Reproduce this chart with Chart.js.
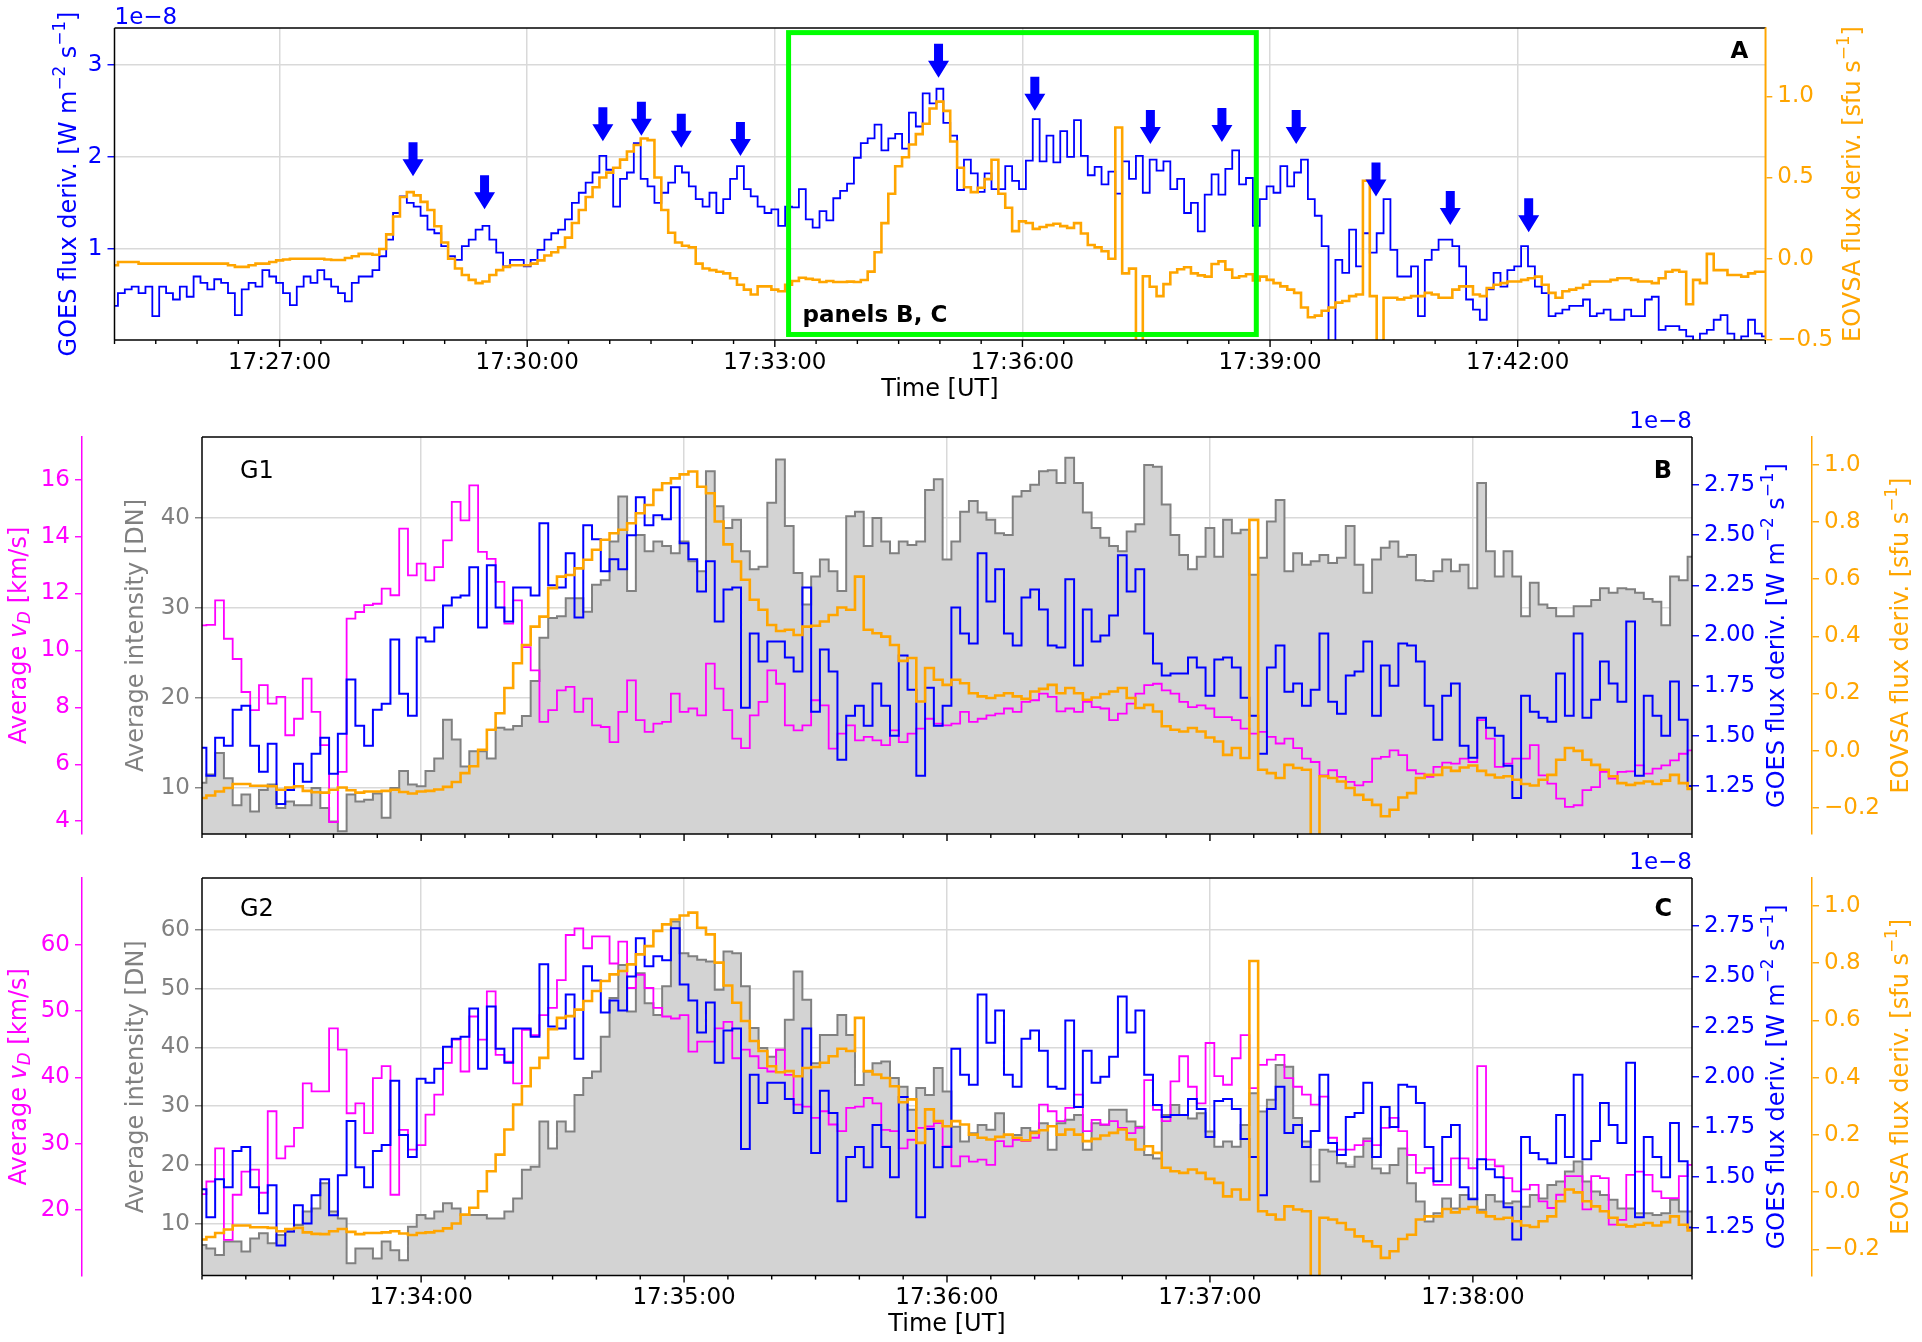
<!DOCTYPE html>
<html>
<head>
<meta charset="utf-8">
<script src="https://cdn.jsdelivr.net/npm/chart.js@4.4.1/dist/chart.umd.min.js"></script>
<style>
  body { margin: 0; background: #fff; }
  #wrap { position: relative; width: 1922px; height: 1342px; overflow: hidden; }
  canvas { position: absolute; left: 0; }
</style>
</head>
<body>
<div id="wrap">
  <canvas id="cA" width="1922" height="410" style="top:0px"></canvas>
  <canvas id="cB" width="1922" height="470" style="top:395px"></canvas>
  <canvas id="cC" width="1922" height="492" style="top:850px"></canvas>
</div>
<script>
const FONT = "'DejaVu Sans', sans-serif";
const BLUE = '#0000ff', ORANGE = '#ffa500', MAGENTA = '#ff00ff', GREY = '#808080', FILL = '#d3d3d3', GRID = '#d9d9d9';

// time is seconds after 17:25:00 UT
const clockStart = 17 * 3600 + 25 * 60;

// ---- panel A: full interval, 5 s samples from 17:25:00 to 17:45:00 ----
const fullStart = 0, fullStep = 5;
const goesFull = [
  0.38,0.52,0.56,0.59,0.52,0.59,0.27,0.59,0.52,0.45,
  0.59,0.48,0.70,0.63,0.56,0.67,0.63,0.52,0.28,0.56,
  0.63,0.59,0.77,0.70,0.63,0.52,0.39,0.59,0.70,0.63,
  0.77,0.67,0.59,0.52,0.43,0.63,0.70,0.70,0.77,0.92,
  1.10,1.39,1.57,1.50,1.46,1.36,1.21,1.17,1.03,0.92,
  0.88,1.03,1.10,1.21,1.25,1.10,0.96,0.81,0.88,0.88,
  0.81,0.88,0.99,1.10,1.17,1.21,1.32,1.50,1.61,1.72,
  1.83,2.01,1.86,1.46,1.76,1.83,2.15,1.76,1.68,1.50,
  1.61,1.72,1.90,1.83,1.68,1.54,1.46,1.61,1.39,1.54,
  1.76,1.90,1.65,1.57,1.46,1.39,1.43,1.25,1.46,
  1.45,1.65,1.32,1.23,1.41,1.31,1.55,1.63,1.71,1.99,
  2.15,2.20,2.35,2.07,2.20,2.25,2.09,2.48,2.33,2.69,
  2.58,2.74,2.37,2.23,1.64,1.97,1.82,1.62,1.82,1.65,
  1.65,1.90,1.74,1.65,1.96,2.41,1.95,2.23,1.94,2.28,
  2.00,2.40,2.01,1.80,1.89,1.70,1.84,1.60,1.95,1.76,
  2.01,1.61,1.97,1.85,1.95,1.65,1.76,1.39,1.50,1.19,
  1.59,1.81,1.59,1.87,2.07,1.70,1.77,1.25,
  1.54,1.68,1.61,1.90,1.68,1.83,1.97,1.54,1.36,1.03,
  -0.02,0.88,0.74,1.21,0.81,1.17,0.96,1.17,1.54,0.99,
  0.70,0.70,0.81,0.27,0.88,0.99,1.10,1.10,1.03,0.81,
  0.45,0.34,0.23,0.56,0.74,0.59,0.77,0.81,1.03,0.81,
  0.59,0.52,0.27,0.30,0.34,0.38,0.38,0.45,0.27,0.30,
  0.34,0.23,0.23,0.34,0.27,0.27,0.45,0.48,0.12,0.16,
  0.16,0.12,0.05,-0.06,0.08,0.12,0.23,0.28,0.08,-0.02,
  0.05,0.23,0.08,0.05
];
const eovsaFull = [
  -0.04,-0.02,-0.02,-0.02,-0.03,-0.03,-0.03,-0.03,-0.03,-0.03,
  -0.03,-0.03,-0.03,-0.03,-0.03,-0.03,-0.03,-0.04,-0.05,-0.05,
  -0.04,-0.03,-0.03,-0.02,-0.01,-0.005,0.0,0.0,0.0,0.0,
  0.0,-0.005,-0.008,-0.008,0.005,0.015,0.03,0.03,0.025,0.06,
  0.15,0.26,0.38,0.41,0.39,0.35,0.30,0.20,0.10,0.0,
  -0.06,-0.10,-0.13,-0.15,-0.14,-0.10,-0.07,-0.05,-0.04,-0.04,
  -0.04,-0.03,-0.01,0.02,0.04,0.07,0.13,0.22,0.30,0.38,
  0.44,0.50,0.53,0.56,0.61,0.66,0.70,0.74,0.73,0.50,
  0.30,0.16,0.10,0.08,0.07,-0.03,-0.06,-0.07,-0.08,-0.09,
  -0.12,-0.16,-0.19,-0.22,-0.17,-0.17,-0.19,-0.20,-0.16,
  -0.137,-0.117,-0.124,-0.129,-0.143,-0.137,-0.143,-0.143,-0.141,-0.143,
  -0.131,-0.079,0.04,0.219,0.40,0.569,0.625,0.703,0.767,0.831,
  0.925,0.967,0.91,0.722,0.56,0.44,0.41,0.437,0.49,0.609,
  0.40,0.314,0.17,0.23,0.22,0.184,0.195,0.207,0.215,0.201,
  0.19,0.219,0.155,0.085,0.07,0.046,0.0,0.808,-0.09,-0.061,
  -0.9,-0.108,-0.172,-0.23,-0.156,-0.085,-0.065,-0.052,-0.09,-0.102,
  -0.11,-0.032,-0.016,-0.067,-0.117,-0.108,-0.095,-0.134,
  -0.11,-0.13,-0.15,-0.17,-0.19,-0.21,-0.30,-0.36,-0.35,-0.32,
  -0.30,-0.27,-0.26,-0.23,-0.22,0.48,-0.23,-0.6,-0.24,-0.24,
  -0.25,-0.24,-0.23,-0.23,-0.21,-0.22,-0.24,-0.24,-0.19,-0.17,
  -0.17,-0.22,-0.23,-0.18,-0.16,-0.15,-0.14,-0.14,-0.13,-0.12,
  -0.11,-0.16,-0.21,-0.24,-0.20,-0.19,-0.18,-0.16,-0.14,-0.14,
  -0.14,-0.13,-0.12,-0.12,-0.13,-0.14,-0.14,-0.15,-0.12,-0.08,
  -0.07,-0.08,-0.28,-0.13,-0.15,0.03,-0.07,-0.07,-0.10,-0.10,
  -0.11,-0.09,-0.08,-0.08
];
// blue arrows in panel A: time and GOES level of the arrow tip
const arrowTimes = [217, 269, 355, 383, 412, 455, 599, 669, 753, 805, 859, 917, 971, 1028];
const arrowTips  = [1.79, 1.43, 2.17, 2.23, 2.10, 2.01, 2.86, 2.50, 2.14, 2.16, 2.14, 1.57, 1.26, 1.18];
// zoom window (green box) 17:33:10 - 17:38:50
const zoomStart = 490, zoomEnd = 830, zoomStep = 2;
const boxGoesTop = 3.35, boxGoesBottom = 0.07;

// ---- panels B and C: 2 s samples from 17:33:10 to 17:38:50 ----
const goesZoom = [
  1.44,1.30,1.49,1.45,1.63,1.65,1.45,1.32,1.46,1.16,
  1.23,1.36,1.27,1.41,1.49,1.31,1.51,1.78,1.55,1.45,
  1.63,1.66,1.98,1.71,1.60,1.99,1.97,2.04,2.15,2.19,
  2.20,2.34,2.04,2.35,2.14,2.07,2.24,2.24,2.20,2.56,
  2.25,2.24,2.41,2.09,2.55,2.48,2.32,2.38,2.33,2.50,
  2.69,2.55,2.60,2.58,2.74,2.46,2.38,2.22,2.37,2.07,
  2.23,2.24,1.64,2.01,1.87,1.97,1.97,1.89,1.82,2.24,
  1.62,1.93,1.82,1.38,1.60,1.65,1.55,1.76,1.65,1.50,
  1.90,1.73,1.30,1.74,1.55,1.65,2.14,2.01,1.96,2.41,
  2.17,2.33,2.01,1.95,2.19,2.23,2.13,1.95,1.94,2.28,
  1.85,2.13,1.97,2.00,2.10,2.40,2.22,2.33,2.01,1.86,
  1.80,1.81,1.81,1.89,1.84,1.70,1.88,1.89,1.84,1.69,
  1.60,1.41,1.84,1.95,1.72,1.76,1.65,1.73,2.01,1.67,
  1.61,1.80,1.82,1.97,1.60,1.85,1.75,1.96,1.95,1.87,
  1.65,1.48,1.70,1.76,1.45,1.39,1.59,1.54,1.50,1.35,
  1.19,1.70,1.62,1.59,1.57,1.81,1.60,2.01,1.59,1.68,
  1.87,1.76,1.67,2.07,1.30,1.70,1.60,1.50,1.77,1.58,
  1.25
];
const eovsaZoom = [
  -0.166,-0.157,-0.143,-0.131,-0.117,-0.117,-0.123,-0.123,-0.125,-0.137,
  -0.129,-0.125,-0.141,-0.146,-0.147,-0.137,-0.129,-0.139,-0.147,-0.143,
  -0.143,-0.141,-0.137,-0.145,-0.150,-0.143,-0.141,-0.136,-0.127,-0.110,
  -0.079,-0.055,0.003,0.073,0.131,0.219,0.306,0.370,0.434,0.469,
  0.569,0.609,0.615,0.638,0.668,0.703,0.738,0.761,0.773,0.796,
  0.831,0.860,0.913,0.936,0.953,0.967,0.977,0.924,0.901,0.802,
  0.722,0.662,0.598,0.528,0.493,0.440,0.419,0.423,0.405,0.434,
  0.437,0.452,0.475,0.501,0.493,0.609,0.423,0.411,0.399,0.370,
  0.314,0.324,0.172,0.289,0.248,0.230,0.248,0.236,0.201,0.190,
  0.184,0.193,0.201,0.190,0.181,0.207,0.216,0.230,0.201,0.219,
  0.201,0.178,0.186,0.198,0.207,0.219,0.184,0.149,0.160,0.137,
  0.085,0.073,0.067,0.079,0.067,0.046,0.032,-0.015,0.009,-0.026,
  0.808,-0.067,-0.079,-0.096,-0.050,-0.061,-0.067,-0.9,-0.090,-0.096,
  -0.108,-0.131,-0.155,-0.172,-0.190,-0.230,-0.207,-0.164,-0.149,-0.096,
  -0.085,-0.085,-0.059,-0.071,-0.059,-0.052,-0.071,-0.085,-0.094,-0.090,
  -0.102,-0.117,-0.122,-0.102,-0.085,-0.032,0.009,-0.001,-0.032,-0.050,
  -0.067,-0.090,-0.114,-0.120,-0.114,-0.108,-0.117,-0.105,-0.085,-0.114,
  -0.134
];
const intensityG1 = [
  10.6,11.5,13.9,11.1,8.1,9.3,7.4,9.8,10.4,7.8,
  8.5,8.1,8.1,10.0,7.8,6.3,5.2,9.3,8.5,8.7,
  9.4,6.7,10.0,11.9,10.4,10.2,11.9,13.3,17.6,15.4,
  12.4,14.1,14.1,13.3,16.7,16.5,16.9,18.0,21.9,26.7,
  28.9,29.1,31.1,31.1,29.6,32.6,33.1,37.4,42.4,31.9,
  38.1,36.3,37.4,36.9,36.1,37.4,35.2,34.1,45.2,41.3,
  38.9,39.8,36.3,34.3,34.6,41.7,46.5,39.1,33.9,30.4,
  33.5,35.4,34.1,31.9,40.2,40.7,36.9,40.0,37.4,36.1,
  37.4,37.0,37.4,43.1,44.3,35.4,37.4,40.7,41.9,40.6,
  39.8,38.3,38.1,42.4,43.0,43.7,45.2,45.3,43.9,46.7,
  43.9,40.6,38.9,37.8,36.9,36.3,38.5,39.3,45.9,45.7,
  41.5,38.1,35.9,34.3,35.7,38.9,35.7,39.8,38.3,38.7,
  33.7,35.6,39.6,42.0,34.1,36.1,34.8,35.2,35.9,35.0,
  35.6,39.1,34.8,31.7,35.4,36.7,37.4,35.7,35.9,33.1,
  33.0,34.1,35.4,34.1,34.8,32.2,43.9,36.3,33.5,36.3,
  33.5,29.1,32.8,30.4,30.0,29.1,29.1,30.2,30.2,30.9,
  32.2,31.7,32.2,32.1,31.7,31.0,30.7,28.1,33.5,33.1,
  35.7
];
const velocityG1 = [
  10.88,10.9,11.76,10.41,9.7,8.54,7.9,8.78,8.13,8.37,
  7.02,7.6,9.01,7.84,6.67,3.97,5.73,11.12,11.35,11.59,
  11.64,12.17,11.94,14.28,12.64,13.05,12.46,12.93,13.87,15.22,
  14.57,15.80,13.46,13.22,12.41,10.94,11.76,10.12,9.30,7.49,
  7.90,8.60,8.72,7.84,8.31,7.37,7.31,6.78,7.84,8.95,
  7.55,7.14,7.43,7.49,8.48,7.84,7.96,7.72,9.54,8.66,
  7.90,6.90,6.57,7.72,8.19,9.30,8.83,7.37,7.19,7.37,
  8.25,8.07,6.55,7.08,7.37,6.84,6.96,6.84,6.67,7.19,
  6.78,7.08,7.25,7.60,7.43,7.37,7.43,7.84,7.49,7.60,
  7.72,7.78,7.96,7.84,8.19,8.25,8.48,8.37,7.86,7.96,
  7.84,8.19,8.01,7.96,7.55,7.78,8.13,8.48,8.78,8.83,
  8.60,8.48,8.19,8.01,8.07,7.96,7.66,7.66,7.55,7.25,
  7.08,7.14,6.96,6.73,6.90,6.57,6.20,6.08,5.61,5.79,
  5.56,5.38,5.26,5.38,6.20,6.26,6.49,6.32,5.79,5.67,
  5.56,5.91,6.06,6.02,6.20,6.08,7.55,6.90,5.91,6.02,
  6.20,6.20,6.67,5.61,5.32,4.79,4.50,4.56,5.09,5.20,
  5.73,5.50,5.73,5.75,5.96,5.67,5.85,5.96,6.14,6.37,
  6.49
];
const intensityG2 = [
  6.4,5.8,4.7,7.0,7.0,5.3,7.5,8.4,6.7,8.1,
  8.7,9.8,12.1,12.6,16.9,12.1,10.9,3.3,5.8,5.8,
  4.1,7.0,5.5,3.8,9.5,11.5,10.9,12.1,13.5,12.6,
  11.5,11.5,11.5,10.9,10.9,12.1,14.3,19.2,19.7,27.4,
  22.8,27.4,25.7,31.9,34.8,35.9,41.8,48.4,54.0,46.1,
  52.6,47.5,45.5,50.4,61.4,56.0,55.5,54.9,54.6,49.8,
  56.3,56.0,50.4,43.3,39.9,38.4,39.6,44.7,52.9,48.1,
  37.3,42.1,42.1,45.5,42.1,33.6,35.9,37.3,37.6,34.8,
  33.3,29.4,33.1,31.9,36.5,32.5,26.5,24.0,25.4,26.8,
  26.0,28.8,25.1,25.1,26.3,25.7,27.1,22.6,27.1,27.7,
  28.5,22.6,27.1,26.8,29.4,29.4,27.4,26.5,21.7,21.1,
  28.5,30.2,28.5,27.9,28.8,25.7,23.1,24.0,23.1,26.8,
  32.2,29.1,31.1,37.0,36.7,28.0,24.0,17.2,22.6,22.3,
  20.3,19.7,21.4,24.5,19.4,18.6,20.0,22.8,16.9,13.8,
  10.4,11.8,14.3,12.6,14.9,14.3,12.4,14.9,13.8,13.5,
  13.8,12.9,14.9,14.3,16.6,17.2,18.9,20.6,17.2,15.5,
  14.9,14.1,12.6,12.6,11.8,11.8,11.5,11.8,14.1,12.1,
  12.1
];
const velocityG2 = [
  22.4,24.3,29.3,15.5,22.3,25.8,26.1,22.6,34.9,27.8,
  29.6,32.4,39.1,37.9,37.9,47.4,44.2,34.6,36.1,31.6,
  39.9,41.7,22.3,32.1,29.1,29.8,34.4,37.4,42.2,45.7,
  40.9,49.2,45.7,53.0,43.4,42.4,39.1,47.2,46.4,49.4,
  50.5,54.7,61.5,62.5,59.5,61.3,61.3,57.2,60.5,53.5,
  55.5,53.5,50.5,49.2,48.9,49.4,43.9,45.4,45.4,47.4,
  48.4,42.9,44.2,43.2,41.4,40.9,44.2,40.4,35.9,35.6,
  33.9,34.9,32.9,31.9,35.4,35.6,36.9,36.1,32.1,31.9,
  29.3,30.6,32.4,32.6,33.1,29.6,26.6,28.1,27.3,27.6,
  26.8,30.4,29.6,30.6,30.4,30.9,35.9,34.9,33.4,35.4,
  37.4,31.9,33.6,32.9,33.4,32.4,31.6,32.4,39.6,35.1,
  33.4,39.4,43.2,38.6,36.1,45.2,40.2,38.9,42.9,46.4,
  38.4,41.9,42.7,43.4,39.9,38.6,37.4,35.9,37.1,30.9,
  29.1,29.1,29.8,30.4,29.8,32.4,33.9,31.9,28.3,25.6,
  26.3,23.8,23.8,27.8,27.8,26.3,41.7,27.6,26.6,24.8,
  22.8,23.1,23.8,21.3,20.3,22.3,25.1,25.1,20.1,25.1,
  24.8,17.8,18.5,25.3,25.8,25.3,22.8,21.8,21.8,25.1,
  26.8
];

// ---- ticks ----
const xMajorFull = [120, 300, 480, 660, 840, 1020];
const xMajorZoom = [540, 600, 660, 720, 780];
const goesTicksFull = [1, 2, 3];
const eovsaTicksFull = [-0.5, 0, 0.5, 1.0];
const goesTicksZoom = [1.25, 1.5, 1.75, 2.0, 2.25, 2.5, 2.75];
const eovsaTicksZoom = [-0.2, 0, 0.2, 0.4, 0.6, 0.8, 1.0];
const velTicksG1 = [4, 6, 8, 10, 12, 14, 16];
const intTicksG1 = [10, 20, 30, 40];
const velTicksG2 = [20, 30, 40, 50, 60];
const intTicksG2 = [10, 20, 30, 40, 50, 60];

// ---- helpers ----
function clock(t) {
  const s = clockStart + t;
  return [Math.floor(s / 3600), Math.floor(s / 60) % 60, s % 60].map(v => String(v).padStart(2, '0')).join(':');
}
const minus = s => s.replace('-', '\u2212');
const series = (start, step, vals) => vals.map((y, i) => ({x: start + i * step, y}));

function drawRich(ctx, segs, x, y, size, color, rot, align) {
  ctx.save();
  ctx.translate(x, y);
  ctx.rotate(rot || 0);
  let total = 0;
  const parts = segs.map(s => {
    const fs = (s.sup || s.sub) ? size * 0.7 : size;
    const font = (s.it ? 'italic ' : '') + (s.bold ? 'bold ' : '') + fs + 'px ' + FONT;
    ctx.font = font;
    const w = ctx.measureText(s.t).width;
    total += w;
    return {t: s.t, font, w, dy: s.sup ? -size * 0.38 : s.sub ? size * 0.22 : 0};
  });
  let cx = align === 'left' ? 0 : align === 'right' ? -total : -total / 2;
  ctx.fillStyle = color;
  ctx.textBaseline = 'middle';
  ctx.textAlign = 'left';
  for (const p of parts) {
    ctx.font = p.font;
    ctx.fillText(p.t, cx, p.dy);
    cx += p.w;
  }
  ctx.restore();
}

const titleGoes = [{t: 'GOES flux deriv. [W m'}, {t: '\u22122', sup: 1}, {t: ' s'}, {t: '\u22121', sup: 1}, {t: ']'}];
const titleEovsa = [{t: 'EOVSA flux deriv. [sfu s'}, {t: '\u22121', sup: 1}, {t: ']'}];
const titleVel = [{t: 'Average '}, {t: 'v', it: 1}, {t: 'D', sub: 1, it: 1}, {t: ' [km/s]'}];
const titleInt = [{t: 'Average intensity [DN]'}];

function yScale(o) {
  return {
    type: 'linear', position: o.pos, weight: o.weight || 0, min: o.min, max: o.max,
    afterBuildTicks: s => { s.ticks = o.ticks.map(v => ({value: v})); },
    afterFit: s => { s.width = o.width; },
    ticks: {color: o.color, font: {family: FONT, size: 23}, padding: 5, autoSkip: false, callback: o.fmt},
    grid: {display: true, drawOnChartArea: !!o.grid, color: GRID, lineWidth: 1.5,
           drawTicks: true, tickLength: 7, tickColor: o.tickColor || o.color, tickWidth: 1.4},
    border: {display: !!o.border, color: o.border || '#000', width: 1.5}
  };
}

function xScale(o) {
  const minorTicks = [];
  for (let t = o.min; t <= o.max; t += o.minor) minorTicks.push(t);
  return {
    type: 'linear', position: 'bottom', min: o.min, max: o.max,
    afterBuildTicks: s => { s.ticks = minorTicks.map(v => ({value: v})); },
    afterFit: s => { s.height = o.height; },
    ticks: {display: o.labels, color: '#000', font: {family: FONT, size: 23}, padding: 9, autoSkip: false,
            maxRotation: 0, callback: v => o.majors.includes(v) ? clock(v) : ''},
    grid: {color: c => (c.tick && o.majors.includes(c.tick.value)) ? GRID : 'rgba(0,0,0,0)', lineWidth: 1.5, drawTicks: false},
    border: {display: false}
  };
}

function decoPlugin(cfg) {
  return {
    id: 'deco' + cfg.name,
    afterDatasetsDraw(chart) {
      const {ctx, chartArea: a, scales} = chart;
      ctx.save();
      if (cfg.box) {
        const x0 = scales.x.getPixelForValue(zoomStart), x1 = scales.x.getPixelForValue(zoomEnd);
        const y0 = scales.yG.getPixelForValue(boxGoesTop), y1 = scales.yG.getPixelForValue(boxGoesBottom);
        ctx.strokeStyle = '#00ff00';
        ctx.lineWidth = 5;
        ctx.strokeRect(x0, y0, x1 - x0, y1 - y0);
        drawRich(ctx, [{t: 'panels B, C', bold: 1}], x0 + 14, a.bottom - 24, 23, '#000', 0, 'left');
      }
      if (cfg.arrows) {
        ctx.fillStyle = BLUE;
        arrowTimes.forEach((t, i) => {
          const x = scales.x.getPixelForValue(t), y = scales.yG.getPixelForValue(arrowTips[i]);
          ctx.beginPath();
          ctx.moveTo(x - 4.5, y - 34);
          ctx.lineTo(x + 4.5, y - 34);
          ctx.lineTo(x + 4.5, y - 17);
          ctx.lineTo(x + 10.5, y - 17);
          ctx.lineTo(x, y);
          ctx.lineTo(x - 10.5, y - 17);
          ctx.lineTo(x - 4.5, y - 17);
          ctx.closePath();
          ctx.fill();
        });
      }
      // frame
      ctx.lineWidth = 1.5;
      const sides = [
        [a.left, a.top, a.right, a.top, '#000'],
        [a.left, a.bottom, a.right, a.bottom, '#000'],
        [a.left, a.top, a.left, a.bottom, '#000'],
        [a.right, a.top, a.right, a.bottom, cfg.rightSpine || '#000']
      ];
      for (const [x1, y1, x2, y2, c] of sides) {
        ctx.strokeStyle = c;
        ctx.beginPath(); ctx.moveTo(x1, y1); ctx.lineTo(x2, y2); ctx.stroke();
      }
      // x tick marks
      const sx = scales.x;
      ctx.strokeStyle = '#000';
      ctx.lineWidth = 1.4;
      for (const tk of sx.ticks) {
        const px = sx.getPixelForValue(tk.value);
        const len = cfg.majors.includes(tk.value) ? 7 : 4;
        ctx.beginPath(); ctx.moveTo(px, a.bottom); ctx.lineTo(px, a.bottom + len); ctx.stroke();
      }
      // texts
      const midY = (a.top + a.bottom) / 2;
      for (const tt of cfg.titles) drawRich(ctx, tt.segs, tt.x, midY, 24, tt.color, -Math.PI / 2);
      for (const tx of cfg.texts) drawRich(ctx, tx.segs, tx.x(a), tx.y(a), tx.size, tx.color, 0, tx.align);
      if (cfg.xTitle) drawRich(ctx, [{t: 'Time [UT]'}], (a.left + a.right) / 2, cfg.xTitle, 24, '#000', 0);
      ctx.restore();
    }
  };
}

const common = {pointRadius: 0, stepped: 'middle', tension: 0, fill: false};

// ---- panel A ----
new Chart(document.getElementById('cA'), {
  type: 'line',
  data: {
    datasets: [
      {...common, data: series(fullStart, fullStep, eovsaFull), yAxisID: 'yE', borderColor: ORANGE, borderWidth: 2.6, order: 1},
      {...common, data: series(fullStart, fullStep, goesFull), yAxisID: 'yG', borderColor: BLUE, borderWidth: 1.8, order: 2}
    ]
  },
  options: {
    responsive: false, animation: false, devicePixelRatio: 1,
    layout: {padding: {top: 28, left: 0, right: 0, bottom: 0}},
    plugins: {legend: {display: false}, tooltip: {enabled: false}},
    scales: {
      x: xScale({min: 0, max: 1200, minor: 30, majors: xMajorFull, labels: true, height: 70}),
      yG: yScale({pos: 'left', min: 0.01, max: 3.4, ticks: goesTicksFull, width: 114.5, color: BLUE, grid: true, fmt: v => String(v)}),
      yE: yScale({pos: 'right', min: -0.5, max: 1.42, ticks: eovsaTicksFull, width: 156.7, color: ORANGE, border: ORANGE, fmt: v => minus(v.toFixed(1))})
    }
  },
  plugins: [decoPlugin({
    name: 'A', box: true, arrows: true, majors: xMajorFull, rightSpine: ORANGE, xTitle: 390,
    titles: [{segs: titleGoes, x: 70, color: BLUE}, {segs: titleEovsa, x: 1854, color: ORANGE}],
    texts: [
      {segs: [{t: 'A', bold: 1}], x: a => a.right - 17, y: a => a.top + 24, size: 23, color: '#000', align: 'right'},
      {segs: [{t: '1e\u22128'}], x: a => a.left, y: a => a.top - 10, size: 23, color: BLUE, align: 'left'}
    ]
  })]
});

// ---- panels B and C ----
function zoomPanel(id, o) {
  new Chart(document.getElementById(id), {
    type: 'line',
    data: {
      datasets: [
        {...common, data: series(zoomStart, zoomStep, eovsaZoom), yAxisID: 'yE', borderColor: ORANGE, borderWidth: 2.6, order: 1},
        {...common, data: series(zoomStart, zoomStep, goesZoom), yAxisID: 'yG', borderColor: BLUE, borderWidth: 2, order: 2},
        {...common, data: series(zoomStart, zoomStep, o.vel), yAxisID: 'yV', borderColor: MAGENTA, borderWidth: 1.8, order: 3},
        {...common, data: series(zoomStart, zoomStep, o.int), yAxisID: 'yI', borderColor: GREY, borderWidth: 2,
         fill: 'start', backgroundColor: FILL, order: 4}
      ]
    },
    options: {
      responsive: false, animation: false, devicePixelRatio: 1,
      layout: {padding: {top: o.top, left: 0, right: 0, bottom: 0}},
      plugins: {legend: {display: false}, tooltip: {enabled: false}},
      scales: {
        x: xScale({min: zoomStart, max: zoomEnd, minor: 10, majors: xMajorZoom, labels: o.xLabels, height: o.xHeight}),
        yV: yScale({pos: 'left', weight: 1, min: o.velMin, max: o.velMax, ticks: o.velTicks, width: 82, color: MAGENTA, border: MAGENTA, fmt: v => String(v)}),
        yI: yScale({pos: 'left', weight: 0, min: o.intMin, max: o.intMax, ticks: o.intTicks, width: 120, color: GREY, grid: true, fmt: v => String(v)}),
        yG: yScale({pos: 'right', weight: 0, min: 1.01, max: 2.99, ticks: goesTicksZoom, width: 120, color: BLUE, fmt: v => v.toFixed(2)}),
        yE: yScale({pos: 'right', weight: 1, min: -0.292, max: 1.098, ticks: eovsaTicksZoom, width: 110, color: ORANGE, border: ORANGE, fmt: v => minus(v.toFixed(1))})
      }
    },
    plugins: [decoPlugin({
      name: id, majors: xMajorZoom, xTitle: o.xTitle,
      titles: [
        {segs: titleVel, x: 20, color: MAGENTA}, {segs: titleInt, x: 137, color: GREY},
        {segs: titleGoes, x: 1778, color: BLUE}, {segs: titleEovsa, x: 1902, color: ORANGE}
      ],
      texts: [
        {segs: [{t: o.group}], x: a => a.left + 38, y: a => a.top + o.labelDy, size: 24, color: '#000', align: 'left'},
        {segs: [{t: o.letter, bold: 1}], x: a => a.right - 20, y: a => a.top + o.labelDy, size: 24, color: '#000', align: 'right'},
        {segs: [{t: '1e\u22128'}], x: a => a.right, y: a => a.top - 15, size: 23, color: BLUE, align: 'right'}
      ]
    })]
  });
}

zoomPanel('cB', {
  vel: velocityG1, int: intensityG1, top: 42, xHeight: 31, xLabels: false, xTitle: null,
  velMin: 3.55, velMax: 17.5, velTicks: velTicksG1, intMin: 4.9, intMax: 49.0, intTicks: intTicksG1,
  group: 'G1', letter: 'B', labelDy: 35
});
zoomPanel('cC', {
  vel: velocityG2, int: intensityG2, top: 28, xHeight: 66.4, xLabels: true, xTitle: 475,
  velMin: 10.1, velMax: 70.1, velTicks: velTicksG2, intMin: 1.2, intMax: 68.8, intTicks: intTicksG2,
  group: 'G2', letter: 'C', labelDy: 32
});
</script>
</body>
</html>
